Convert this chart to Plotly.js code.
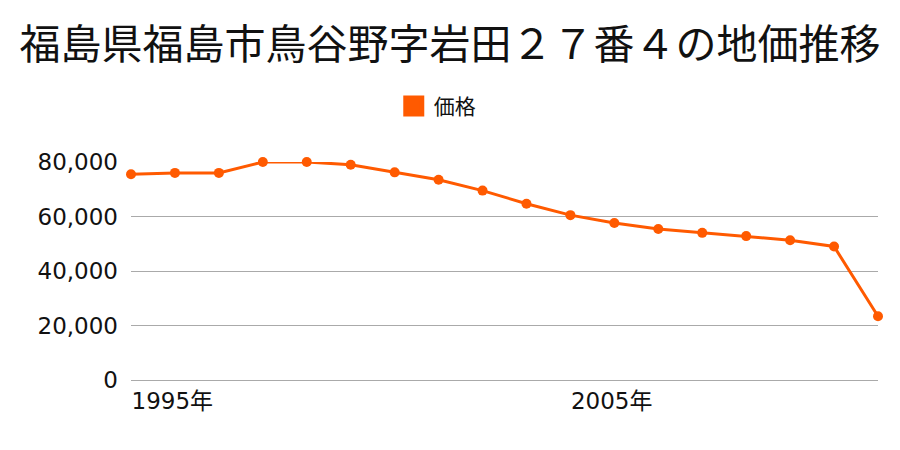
<!DOCTYPE html>
<html>
<head>
<meta charset="utf-8">
<script src="https://cdn.plot.ly/plotly-3.0.1.min.js"></script>
<style>html,body{margin:0;padding:0;background:#fff;}#chart{width:900px;height:450px;}</style>
</head>
<body>
<div id="chart"></div>
<script>
const years = [1995,1996,1997,1998,1999,2000,2001,2002,2003,2004,2005,2006,2007,2008,2009,2010,2011,2012];
const prices = [75500,76000,76000,80000,80000,79000,76200,73500,69500,64700,60500,57600,55400,54000,52800,51300,49000,23400];
const tickYears = [1995, 2005];
const tickLabels = ['1995年', '2005年'];
const seriesName = '価格';
const titleText = '福島県福島市鳥谷野字岩田２７番４の地価推移';

const color = '#ff5a00';
const font = '"Noto Sans CJK JP", "Noto Sans", sans-serif';
const numFont = '"DejaVu Sans", "Noto Sans CJK JP", sans-serif';

const traces = [
  {
    x: years, y: prices, type: 'scatter', mode: 'lines+markers',
    line: {color: color, width: 3}, marker: {color: color, size: 10},
    showlegend: false, cliponaxis: false, name: seriesName
  },
  {
    x: [null], y: [null], type: 'scatter', mode: 'markers',
    marker: {color: color, symbol: 'square', size: 20, line: {color: color, width: 6}},
    name: seriesName, showlegend: true
  }
];

const layout = {
  width: 900, height: 450,
  margin: {l: 131, r: 22, t: 162, b: 70},
  paper_bgcolor: '#fff', plot_bgcolor: '#fff',
  font: {family: font, color: '#111'},
  title: {text: titleText, font: {size: 41, family: font, color: '#111'}, x: 0.5, xanchor: 'center', y: 0.9, yanchor: 'middle'},
  showlegend: true,
  legend: {orientation: 'h', x: 0.41, xanchor: 'center', y: 1.255, yanchor: 'middle', font: {size: 21, family: font}, itemsizing: 'trace'},
  xaxis: {
    range: [1995, 2012], tickvals: tickYears, ticktext: tickLabels,
    ticklabelposition: 'outside right', showgrid: false, zeroline: false,
    showline: false, ticks: 'outside', ticklen: 6, tickcolor: 'rgba(0,0,0,0)',
    tickfont: {size: 23, family: numFont, color: '#111'}
  },
  yaxis: {
    range: [0, 80000], tickvals: [0, 20000, 40000, 60000, 80000],
    ticktext: ['0', '20,000', '40,000', '60,000', '80,000'],
    showgrid: true, gridcolor: '#aaaaaa', gridwidth: 1, zeroline: true, zerolinecolor: '#aaaaaa',
    ticks: '', ticklabelstandoff: 12, tickfont: {size: 23, family: numFont, color: '#111'}
  }
};

Plotly.newPlot('chart', traces, layout, {displayModeBar: false, staticPlot: true});
</script>
</body>
</html>
